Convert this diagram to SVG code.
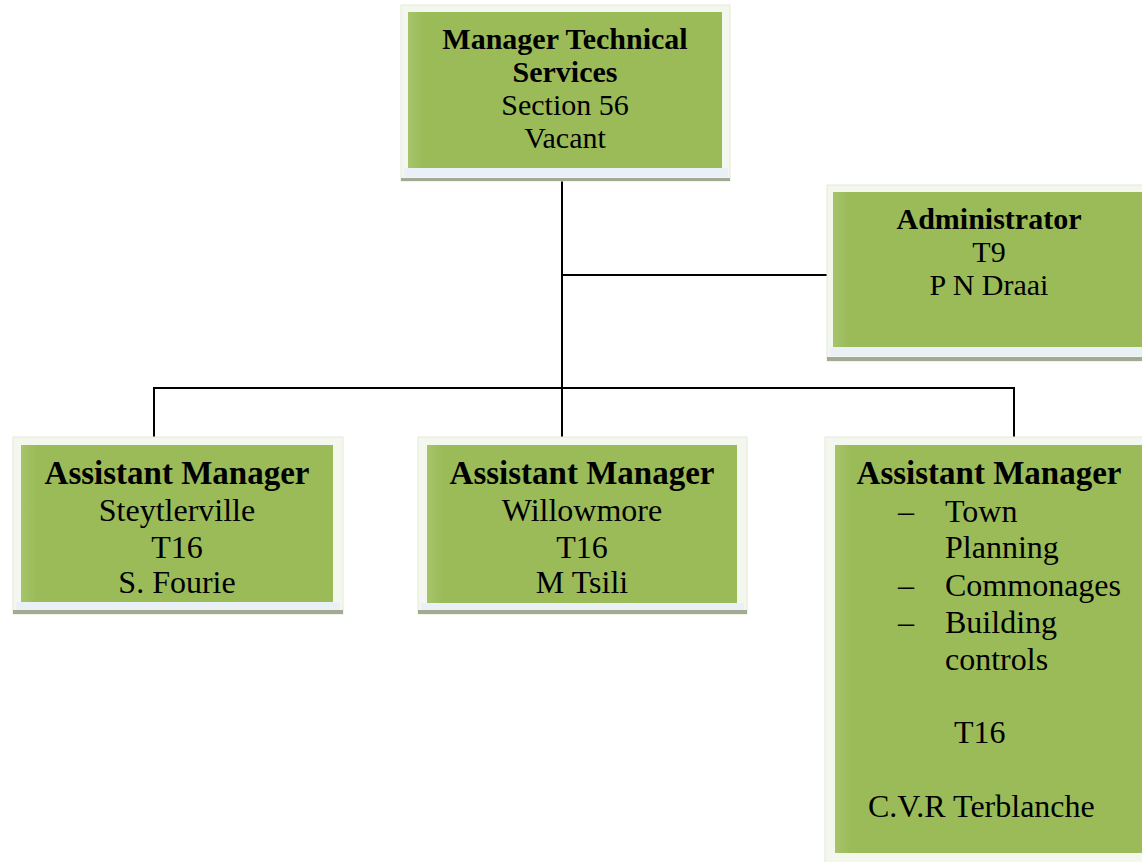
<svg xmlns="http://www.w3.org/2000/svg" width="1142" height="862" viewBox="0 0 1142 862">
<style>
.frame{fill:#f4f7ee;stroke:#e3e9d6;stroke-width:1}
.green{fill:url(#g)}
.strip{fill:#eaf0f7}
.shadow{fill:#a3aa94}
.t{font-family:"Liberation Serif","Times New Roman",serif;fill:#000}
.b{font-weight:bold}
.s30{font-size:30px}
.s32{font-size:32px}
.s33{font-size:33px}
.c{text-anchor:middle}
.conn line{stroke:#000;stroke-width:2}
</style>
<defs>
<linearGradient id="g" x1="0" y1="0" x2="1" y2="0">
<stop offset="0" stop-color="#a6c46a"/>
<stop offset="0.05" stop-color="#9bbb59"/>
<stop offset="1" stop-color="#9bbb59"/>
</linearGradient>
</defs>
<rect width="1142" height="862" fill="#fff"/>

<g id="connectors" class="conn">
<line x1="562" y1="173" x2="562" y2="440"/>
<line x1="561" y1="275" x2="828" y2="275"/>
<line x1="153" y1="388" x2="1015" y2="388"/>
<line x1="154" y1="387" x2="154" y2="438"/>
<line x1="1014" y1="387" x2="1014" y2="438"/>
</g>

<g id="manager">
<rect class="frame" x="401" y="5" width="329" height="176"/>
<rect class="green" x="408" y="12" width="314" height="156"/>
<rect class="strip" x="404" y="168" width="324" height="9"/>
<rect class="shadow" x="401" y="178" width="329" height="3"/>
<text class="t b s30 c" x="565" y="49">Manager Technical</text>
<text class="t b s30 c" x="565" y="82">Services</text>
<text class="t s30 c" x="565" y="115">Section 56</text>
<text class="t s30 c" x="565" y="148">Vacant</text>
</g>

<g id="administrator">
<rect class="frame" x="827" y="185" width="330" height="176"/>
<rect class="green" x="833" y="192" width="320" height="155"/>
<rect class="strip" x="830" y="347" width="320" height="9"/>
<rect class="shadow" x="827" y="357" width="330" height="4"/>
<text class="t b s30 c" x="989" y="229">Administrator</text>
<text class="t s30 c" x="989" y="262">T9</text>
<text class="t s30 c" x="989" y="295">P N Draai</text>
</g>

<g id="am-steytlerville">
<rect class="frame" x="13" y="437" width="330" height="177"/>
<rect class="green" x="21" y="445" width="312" height="157"/>
<rect class="strip" x="16" y="602" width="324" height="8"/>
<rect class="shadow" x="13" y="610" width="330" height="4"/>
<text class="t b s33 c" x="177" y="484">Assistant Manager</text>
<text class="t s32 c" x="177" y="521">Steytlerville</text>
<text class="t s32 c" x="177" y="558">T16</text>
<text class="t s32 c" x="177" y="593">S. Fourie</text>
</g>

<g id="am-willowmore">
<rect class="frame" x="418" y="437" width="329" height="177"/>
<rect class="green" x="427" y="445" width="310" height="158"/>
<rect class="strip" x="421" y="603" width="323" height="7"/>
<rect class="shadow" x="418" y="610" width="329" height="4"/>
<text class="t b s33 c" x="582" y="484">Assistant Manager</text>
<text class="t s32 c" x="582" y="521">Willowmore</text>
<text class="t s32 c" x="582" y="558">T16</text>
<text class="t s32 c" x="582" y="593">M Tsili</text>
</g>

<g id="am-planning">
<rect class="frame" x="825" y="437" width="330" height="430"/>
<rect class="green" x="835" y="445" width="320" height="408"/>
<text class="t b s33 c" x="989" y="484">Assistant Manager</text>
<text class="t s32" x="898" y="522">–</text>
<text class="t s32" x="945" y="522">Town</text>
<text class="t s32" x="945" y="558">Planning</text>
<text class="t s32" x="898" y="596">–</text>
<text class="t s32" x="945" y="596">Commonages</text>
<text class="t s32" x="898" y="633">–</text>
<text class="t s32" x="945" y="633">Building</text>
<text class="t s32" x="945" y="670">controls</text>
<text class="t s32" x="954" y="743">T16</text>
<text class="t s32" x="868" y="817">C.V.R Terblanche</text>
</g>
</svg>
